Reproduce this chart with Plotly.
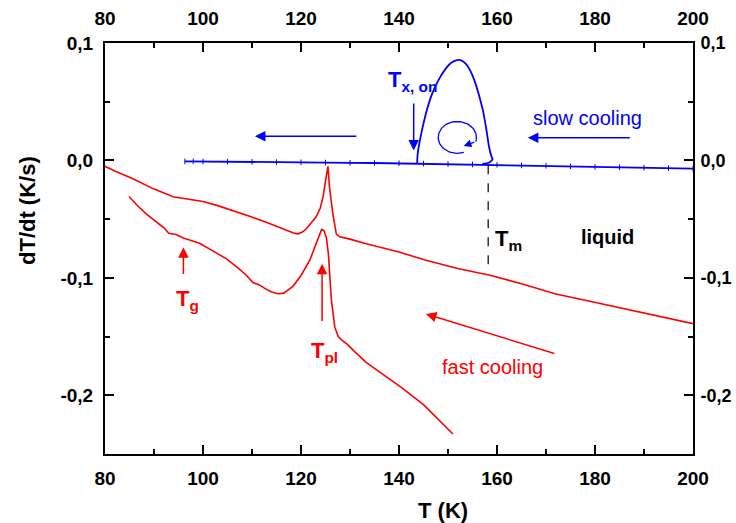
import numpy as np
import plotly.graph_objects as go

# ---------------- data ----------------
# fast cooling, upper curve
fast1_T = [80, 82, 85.7, 89.8, 93.9, 98, 100, 103, 106.1, 109.5, 112.9, 115, 117, 118.5, 119.4,
           120.3, 121.1, 122.2, 123.1, 123.9, 124.5, 125.2, 125.5, 125.8, 126.5, 127.2, 127.9,
           130, 133.3, 140, 145.5, 152, 158.8, 165, 172, 178, 184.6, 192, 200]
fast1_dTdt = [-0.005, -0.009, -0.0156, -0.024, -0.031, -0.0335, -0.035, -0.0385, -0.0426, -0.0475,
              -0.0526, -0.056, -0.0597, -0.0618, -0.0625, -0.061, -0.0582, -0.053, -0.048, -0.041,
              -0.031, -0.0125, -0.005, -0.022, -0.0455, -0.0625, -0.065, -0.067, -0.071, -0.078,
              -0.085, -0.092, -0.098, -0.105, -0.1137, -0.119, -0.125, -0.132, -0.139]

# fast cooling, lower curve
fast2_T = [84.9, 86.5, 88.4, 90.5, 92.2, 93, 94.5, 96, 99.3, 102, 104.8, 107, 108.9, 110.2, 111.5,
           112.6, 114, 115.3, 116.5, 118.4, 120, 121.8, 123, 123.7, 124.2, 124.7, 125.2, 125.6,
           125.9, 126.2, 126.9, 127.6, 128.3, 129.3, 131, 133.3, 136, 140.4, 145, 151]
fast2_dTdt = [-0.0307, -0.038, -0.0455, -0.052, -0.058, -0.062, -0.063, -0.066, -0.0705, -0.077,
              -0.0838, -0.091, -0.098, -0.104, -0.106, -0.109, -0.112, -0.1135, -0.113, -0.107,
              -0.098, -0.085, -0.072, -0.063, -0.0588, -0.060, -0.066, -0.080, -0.105, -0.119,
              -0.142, -0.150, -0.153, -0.156, -0.163, -0.172, -0.180, -0.193, -0.208, -0.233]

# slow cooling baseline
slow_base_T = [200, 195, 190, 185, 180, 175, 170, 165, 160, 155, 150, 145, 140, 135, 130, 125,
               120, 115, 110, 105, 100, 98, 96.3]
slow_base_dTdt = [-0.007, -0.0066, -0.0062, -0.0058, -0.0055, -0.0050, -0.0046, -0.0042, -0.0037,
                  -0.0034, -0.0030, -0.0027, -0.0024, -0.0022, -0.0020, -0.0018, -0.0016, -0.0014,
                  -0.0012, -0.0010, -0.0009, -0.0008, -0.0008]

# slow cooling crystallisation loop
slow_loop_T = [143.7, 143.8, 144.4, 145.5, 146.6, 148, 149.5, 150.6, 151.8, 152.8, 153.7, 154.6,
               155.4, 156.3, 157.1, 157.8, 158.4, 158.9, 159.1, 158.3, 157]
slow_loop_dTdt = [-0.0026, 0.005, 0.02, 0.040, 0.055, 0.068, 0.078, 0.083, 0.0855, 0.085, 0.082,
                  0.076, 0.068, 0.056, 0.043, 0.027, 0.011, 0.003, 0.001, -0.002, -0.003]

x_range = [80, 200]
y_range = [-0.25, 0.1]
y_tickvals = [-0.2, -0.1, 0.0, 0.1]
y_ticktext = ["-0,2", "-0,1", "0,0", "0,1"]
x_tickvals = [80, 100, 120, 140, 160, 180, 200]
x_ticktext = ["80", "100", "120", "140", "160", "180", "200"]

RED = "#ff0000"
BLUE = "#0000ff"
FONT = "Liberation Sans, Arial, Helvetica, sans-serif"

fig = go.Figure()
fig.add_trace(go.Scatter(x=fast1_T, y=fast1_dTdt, mode="lines",
                         line=dict(color=RED, width=1.6), hoverinfo="skip"))
fig.add_trace(go.Scatter(x=fast2_T, y=fast2_dTdt, mode="lines",
                         line=dict(color=RED, width=1.6), hoverinfo="skip"))
fig.add_trace(go.Scatter(x=slow_base_T, y=slow_base_dTdt, mode="lines+markers",
                         line=dict(color=BLUE, width=1.8),
                         marker=dict(symbol="line-ns-open", size=4, line=dict(color=BLUE, width=1)),
                         hoverinfo="skip"))
fig.add_trace(go.Scatter(x=slow_loop_T, y=slow_loop_dTdt, mode="lines",
                         line=dict(color=BLUE, width=1.8, shape="spline", smoothing=0.6),
                         hoverinfo="skip"))

# circular arrow inside the loop (decoration)
cx, cy, rx, ry = 151.9, 0.0196, 3.9, 0.0136
t = np.radians(np.linspace(290, -15, 80))
fig.add_trace(go.Scatter(x=cx + rx * np.cos(t), y=cy + ry * np.sin(t), mode="lines",
                         line=dict(color=BLUE, width=1.3), hoverinfo="skip"))
tail_x, tail_y = cx + rx * np.cos(np.radians(-15)), cy + ry * np.sin(np.radians(-15))

# dummy trace for mirrored top/right axes
fig.add_trace(go.Scatter(x=[], y=[], xaxis="x2", yaxis="y2", hoverinfo="skip"))

axis_common = dict(showline=True, linewidth=2, linecolor="black", mirror=False,
                   ticks="inside", ticklen=9, tickwidth=1.5, tickcolor="black",
                   showgrid=False, zeroline=False, automargin=False,
                   tickfont=dict(family=FONT, size=19, color="black", weight="bold"))
minor_x = dict(tickmode="linear", tick0=80, dtick=10, ticks="inside", ticklen=5,
               tickwidth=1.5, tickcolor="black")
minor_y = dict(tickmode="linear", tick0=0, dtick=0.05, ticks="inside", ticklen=5,
               tickwidth=1.5, tickcolor="black")

fig.update_layout(
    width=736, height=523,
    margin=dict(l=105, r=43, t=43, b=69),
    paper_bgcolor="white", plot_bgcolor="white",
    showlegend=False,
    xaxis=dict(range=x_range, tickmode="array", tickvals=x_tickvals, ticktext=x_ticktext,
               minor=minor_x, ticklabelstandoff=6, **axis_common),
    xaxis2=dict(range=x_range, overlaying="x", side="top", anchor="y", tickmode="array",
                tickvals=x_tickvals, ticktext=x_ticktext, minor=minor_x,
                ticklabelstandoff=8, **axis_common),
    yaxis=dict(range=y_range, tickmode="array", tickvals=y_tickvals, ticktext=y_ticktext,
               minor=minor_y, ticklabelstandoff=6, **axis_common),
    yaxis2=dict(range=y_range, overlaying="y", side="right", anchor="x", tickmode="array",
                tickvals=y_tickvals, ticktext=y_ticktext, minor=minor_y,
                ticklabelstandoff=2, **axis_common),
)
fig.update_layout(yaxis2_tickfont_size=18)

# Tm dashed line
fig.add_shape(type="line", x0=158.2, x1=158.2, y0=-0.004, y1=-0.0895, xref="x", yref="y",
              line=dict(color="black", width=1.2, dash="dash"))

ann = []
def arrow(xh, yh, xt, yt, color, width=1.5, size=1.4):
    ann.append(dict(x=xh, y=yh, ax=xt, ay=yt, xref="x", yref="y", axref="x", ayref="y",
                    text="", showarrow=True, arrowhead=2, arrowsize=size, arrowwidth=width,
                    arrowcolor=color, standoff=0, startstandoff=0))

def label(x, y, text, color, size, bold=False, xanchor="left", yanchor="top"):
    ann.append(dict(x=x, y=y, xref="x", yref="y", text=text, showarrow=False,
                    xanchor=xanchor, yanchor=yanchor,
                    font=dict(family=FONT, size=size, color=color,
                              weight="bold" if bold else "normal")))

arrow(110.6, 0.0205, 131.6, 0.0205, BLUE)
arrow(166.3, 0.0193, 187.4, 0.0193, BLUE)
arrow(143.0, 0.0085, 143.0, 0.0497, BLUE)
arrow(153.2, 0.0122, tail_x, tail_y, BLUE, width=1.3, size=1.2)
arrow(145.5, -0.1307, 172.0, -0.1648, RED)
arrow(96.0, -0.074, 96.0, -0.098, RED)
arrow(124.3, -0.088, 124.3, -0.138, RED)

label(178.5, 0.0358, "slow cooling", BLUE, 20, xanchor="center", yanchor="middle")
label(159.0, -0.1756, "fast cooling", RED, 20, xanchor="center", yanchor="middle")
label(182.6, -0.0656, "liquid", "black", 20, bold=True, xanchor="center", yanchor="middle")
label(137.3, 0.081, "T<sub>x, on</sub>", BLUE, 22, bold=True)
label(94.0, -0.105, "T<sub>g</sub>", RED, 22, bold=True)
label(121.6, -0.1495, "T<sub>pl</sub>", RED, 22, bold=True)
label(159.1, -0.054, "T<sub>m</sub>", "black", 22, bold=True)

ann.append(dict(x=(28 - 105) / 588, y=(454 - 211) / 411, xref="paper", yref="paper",
                text="dT/dt (K/s)", showarrow=False, textangle=-90,
                xanchor="center", yanchor="middle",
                font=dict(family=FONT, size=22, color="black", weight="bold")))
ann.append(dict(x=(443 - 105) / 588, y=-(510 - 454) / 411, xref="paper", yref="paper",
                text="T (K)", showarrow=False, xanchor="center", yanchor="middle",
                font=dict(family=FONT, size=22, color="black", weight="bold")))

fig.update_layout(annotations=ann)
fig.write_html("out.html")
